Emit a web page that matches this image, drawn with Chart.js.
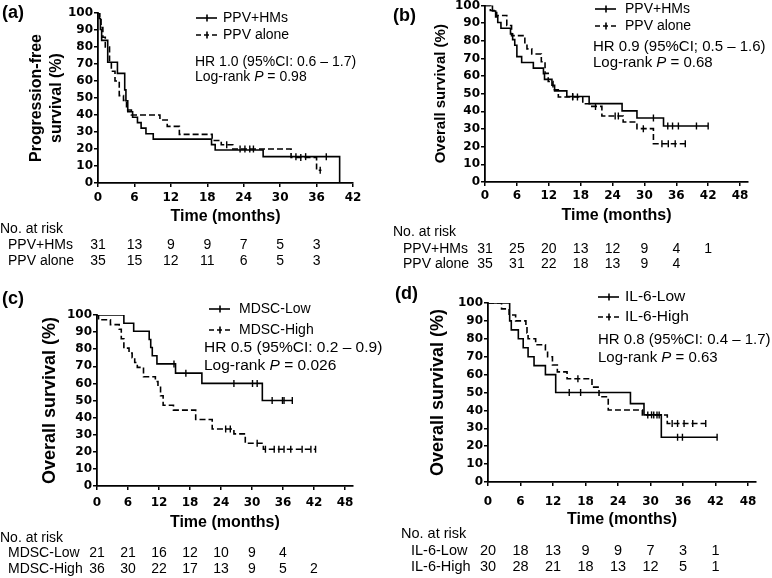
<!DOCTYPE html>
<html><head><meta charset="utf-8">
<script src="https://cdn.jsdelivr.net/npm/chart.js@4.4.1/dist/chart.umd.min.js"></script>
<style>
html,body{margin:0;padding:0;background:#fff;}
body{width:772px;height:578px;position:relative;overflow:hidden;}
canvas{position:absolute;}
</style></head>
<body>
<canvas id="ca" width="386" height="280" style="left:0;top:0"></canvas>
<canvas id="cb" width="386" height="280" style="left:386px;top:0"></canvas>
<canvas id="cc" width="386" height="298" style="left:0;top:280px"></canvas>
<canvas id="cd" width="386" height="298" style="left:386px;top:280px"></canvas>
<script>
// ---------- data ----------
const survTicks = [0,10,20,30,40,50,60,70,80,90,100];
const timeTicksA = [0,6,12,18,24,30,36,42];
const timeTicks = [0,6,12,18,24,30,36,42,48];
const riskTimes = [0,6,12,18,24,30,36,42];

// (a) progression-free survival
const aGroups = ['PPV+HMs','PPV alone'];
const aHmTime = [0,0.2,0.4,0.6,1.6,3.2,4.4,4.6,4.9,5.7,6.5,7.1,7.9,9.1,18.7,19.3,27.2,39.8];
const aHmSurv = [100,96.8,90.3,83.9,71.0,64.5,54.8,48.4,41.9,38.7,35.5,32.3,29.0,25.8,22.6,19.4,15.5,0];
const aHmCens = [32.6,34.2,37.6];
const aAloneTime = [0,0.3,0.5,0.8,1.2,1.9,2.2,2.8,3.5,4.2,4.7,5.5,10.2,11.4,13.4,18.8,20.3,22.2,31.8,36.0,36.8];
const aAloneSurv = [100,97.1,91.4,85.7,80.0,71.4,65.7,60.0,51.4,48.6,42.9,40.0,37.1,33.3,28.6,25.0,22.5,20.0,15.0,7.5,7.5];
const aAloneCens = [21.2,23.4,24.2,25.0,25.6,33.4,36.6];
const aRiskHm = [31,13,9,9,7,5,3];
const aRiskAlone = [35,15,12,11,6,5,3];
const aHR = 'HR 1.0 (95%CI: 0.6 \u2013 1.7)';
const aP = '0.98';

// (b) overall survival
const bGroups = ['PPV+HMs','PPV alone'];
const bHmTime = [0,1.4,2.0,2.4,3.0,4.8,5.2,5.6,6.0,6.9,9.1,11.0,11.2,12.6,13.1,15.4,19.6,25.8,28.6,33.6,42.0];
const bHmSurv = [100,96.8,93.5,90.3,87.1,83.9,80.6,77.4,71.0,67.7,64.5,61.3,58.1,54.8,51.6,48.4,44.4,40.3,36.2,31.7,31.7];
const bHmCens = [16.5,31.7,34.4,35.3,36.4,39.8,42.0];
const bAloneTime = [0,1.0,2.2,4.1,5.0,7.5,7.9,8.8,10.6,11.3,11.9,12.8,13.8,18.4,20.1,22.0,26.0,28.6,31.7,37.7];
const bAloneSurv = [100,97.1,94.3,88.6,82.9,78.3,75.4,72.5,68.1,61.5,56.9,52.2,48.1,44.3,42.8,37.4,34.0,30.2,21.7,21.7];
const bAloneCens = [16.5,17.4,20.8,24.5,25.1,29.8,33.3,34.5,35.8,37.7];
const bRiskHm = [31,25,20,13,12,9,4,1];
const bRiskAlone = [35,31,22,18,13,9,4];
const bHR = 'HR 0.9 (95%CI; 0.5 \u2013 1.6)';
const bP = '0.68';

// (c) MDSC
const cGroups = ['MDSC-Low','MDSC-High'];
const cLowTime = [0,5.2,7.1,10.1,10.4,10.7,11.6,15.2,20.3,32.0,37.8];
const cLowSurv = [100,95.2,90.5,85.7,81.0,76.2,71.4,66.0,60.0,50.0,50.0];
const cLowCens = [14.9,17.2,26.5,30.1,31.0,33.9,35.9,36.2,37.8];
const cHighTime = [0,0.3,2.6,4.3,4.7,5.2,6.2,6.8,7.3,7.8,9.0,11.3,11.8,12.3,12.8,14.8,19.1,22.3,26.5,28.7,32.2,42.3];
const cHighSurv = [100,97.2,94.4,91.7,86.1,80.6,77.8,75.0,72.2,69.4,63.9,61.1,58.3,52.8,47.2,44.4,38.9,33.3,30.5,25.0,21.5,21.5];
const cHighCens = [24.9,25.8,31.0,32.6,34.3,35.2,36.2,37.5,39.7,41.4,42.3];
const cRiskLow = [21,21,16,12,10,9,4];
const cRiskHigh = [36,30,22,17,13,9,5,2];
const cHR = 'HR 0.5 (95%CI: 0.2 \u2013 0.9)';
const cP = '0.026';

// (d) IL-6
const dGroups = ['IL-6-Low','IL-6-High'];
const dLowTime = [0,4.0,4.3,5.6,6.5,7.4,8.5,10.6,12.5,26.3,28.8,32.0,42.3];
const dLowSurv = [100,90,85,80,75,70,65,60,50,43.8,37.5,25.0,25.0];
const dLowCens = [15.0,17.1,30.2,31.2,35.0,35.9,42.3];
const dHighTime = [0,2.5,3.9,5.1,7.0,7.2,7.4,8.8,10.6,11.0,11.9,12.8,14.6,19.2,20.5,22.2,28.5,33.1,40.2];
const dHighSurv = [100,96.7,93.3,90.0,86.7,83.3,80.0,76.7,73.3,70.0,65.4,61.5,57.7,53.0,47.6,40.2,37.4,32.7,32.7];
const dHighCens = [16.6,29.5,30.6,31.6,34.0,35.0,36.2,37.8,40.2];
const dRiskLow = [20,18,13,9,9,7,3,1];
const dRiskHigh = [30,28,21,18,13,12,5,1];
const dHR = 'HR 0.8 (95%CI: 0.4 \u2013 1.7)';
const dP = '0.63';

// ---------- rendering ----------
const FONT = "'Liberation Sans', Arial, Helvetica, sans-serif";
const TICKFONT = "'DejaVu Sans', Verdana, sans-serif";

function stepValue(times, surv, t) {
  let v = surv[0];
  for (let i = 0; i < times.length; i++) if (times[i] <= t) v = surv[i];
  return v;
}

function extrasPlugin(p) {
  return {
    id: 'extras_' + p.id,
    afterDraw(chart) {
      const ctx = chart.ctx, ox = p.left, oy = p.top;
      ctx.save();
      ctx.fillStyle = '#000'; ctx.strokeStyle = '#000';
      ctx.textBaseline = 'middle'; ctx.textAlign = 'left';
      // panel label
      ctx.font = 'bold ' + p.labelSize + 'px ' + FONT;
      ctx.fillText(p.label, p.labelX - ox, p.labelY - oy);
      // legend
      p.groups.forEach((g, i) => {
        const y = p.legY[i] - oy, x0 = p.legX - ox;
        ctx.lineWidth = 1.6;
        ctx.setLineDash(g.dash ? [5, 3] : []);
        ctx.beginPath(); ctx.moveTo(x0, y); ctx.lineTo(x0 + 21, y); ctx.stroke();
        ctx.setLineDash([]);
        ctx.beginPath(); ctx.moveTo(x0 + 11, y - 3.5); ctx.lineTo(x0 + 11, y + 3.5); ctx.stroke();
        ctx.font = p.legSize + 'px ' + FONT;
        ctx.fillText(g.name, p.legTextX - ox, y);
      });
      // statistics
      ctx.font = p.statSize + 'px ' + FONT;
      ctx.fillText(p.hr, p.statX - ox, p.statY[0] - oy);
      let x = p.statX - ox;
      const y2 = p.statY[1] - oy;
      ctx.fillText('Log-rank ', x, y2); x += ctx.measureText('Log-rank ').width;
      ctx.font = 'italic ' + p.statSize + 'px ' + FONT;
      ctx.fillText('P', x, y2); x += ctx.measureText('P').width;
      ctx.font = p.statSize + 'px ' + FONT;
      ctx.fillText(' = ' + p.pval, x, y2);
      // risk table
      const xs = chart.scales.x;
      ctx.font = p.riskSize + 'px ' + FONT;
      ctx.textAlign = 'left';
      ctx.fillText('No. at risk', p.riskTitleX - ox, p.riskTitleY - oy);
      p.groups.forEach((g, i) => {
        const y = p.riskY[i] - oy;
        ctx.textAlign = 'left';
        ctx.fillText(g.name, p.riskLabelX - ox, y);
        ctx.textAlign = 'center';
        g.risk.forEach((n, j) => ctx.fillText(String(n), xs.getPixelForValue(riskTimes[j]), y));
      });
      ctx.restore();
    }
  };
}

function buildPanel(p) {
  const datasets = [];
  p.groups.forEach(g => {
    datasets.push({
      type: 'line',
      data: g.times.map((t, i) => ({x: t, y: g.surv[i]})),
      stepped: true, borderColor: '#000', borderWidth: 1.6,
      borderDash: g.dash ? [6, 3] : [], pointRadius: 0, fill: false
    });
    datasets.push({
      type: 'scatter',
      data: g.cens.map(t => ({x: t, y: stepValue(g.times, g.surv, t)})),
      pointStyle: 'line', rotation: 90, radius: 3.5,
      borderColor: '#000', backgroundColor: '#000', borderWidth: 1.4
    });
  });
  const yW = p.L - p.left;
  const top = p.T - p.top;
  const right = p.left + p.w - p.R;
  const bottom = p.top + p.h - p.B - p.xH;
  new Chart(document.getElementById(p.id), {
    data: {datasets},
    options: {
      responsive: false, animation: false, devicePixelRatio: 1,
      layout: {padding: {left: 0, top: top, right: right, bottom: bottom}},
      scales: {
        x: {
          type: 'linear', min: 0, max: p.xMax,
          afterBuildTicks: s => { s.ticks = p.xTicks.map(v => ({value: v})); },
          afterFit: s => { s.height = p.xH; s.paddingLeft = 0; s.paddingRight = 0; },
          ticks: {font: {family: TICKFONT, weight: 'bold', size: 12}, color: '#000', padding: p.xTickPad, maxRotation: 0, autoSkip: false},
          grid: {drawOnChartArea: false, drawTicks: true, tickLength: 4, color: '#000', lineWidth: 1.5},
          border: {display: true, color: '#000', width: 1.8},
          title: {display: true, text: 'Time (months)', font: {family: FONT, weight: 'bold', size: 16}, color: '#000', padding: 0}
        },
        y: {
          type: 'linear', min: 0, max: 100,
          afterBuildTicks: s => { s.ticks = survTicks.map(v => ({value: v})); },
          afterFit: s => { s.width = yW; s.paddingTop = 0; s.paddingBottom = 0; },
          ticks: {font: {family: TICKFONT, weight: 'bold', size: 12}, color: '#000', padding: 1, autoSkip: false},
          grid: {drawOnChartArea: false, drawTicks: true, tickLength: 4, color: '#000', lineWidth: 1.5},
          border: {display: true, color: '#000', width: 1.8},
          title: {display: true, text: p.yTitle, font: {family: FONT, weight: 'bold', size: p.yTitleSize}, color: '#000', padding: {top: p.yTitlePad, bottom: 0}}
        }
      },
      plugins: {legend: {display: false}, tooltip: {enabled: false}}
    },
    plugins: [extrasPlugin(p)]
  });
}

buildPanel({
  id: 'ca', left: 0, top: 0, w: 386, h: 280,
  L: 98, R: 353, T: 13, B: 183, xMax: 42, xTicks: timeTicksA, xH: 43.6, xTickPad: 4,
  yTitle: ['Progression-free', 'survival (%)'], yTitleSize: 16, yTitlePad: 27.4,
  label: '(a)', labelSize: 18, labelX: 2, labelY: 13,
  legX: 196, legTextX: 223, legY: [18, 35], legSize: 14,
  hr: aHR, pval: aP, statX: 195, statY: [62, 77], statSize: 14,
  riskSize: 14, riskTitleX: 0, riskTitleY: 229, riskLabelX: 8, riskY: [245, 261],
  groups: [
    {name: aGroups[0], times: aHmTime, surv: aHmSurv, cens: aHmCens, risk: aRiskHm, dash: false},
    {name: aGroups[1], times: aAloneTime, surv: aAloneSurv, cens: aAloneCens, risk: aRiskAlone, dash: true}
  ]
});

buildPanel({
  id: 'cb', left: 386, top: 0, w: 386, h: 280,
  L: 485, R: 748, T: 5, B: 182, xMax: 49.5, xTicks: timeTicks, xH: 43.6, xTickPad: 3,
  yTitle: 'Overall survival (%)', yTitleSize: 15, yTitlePad: 46,
  label: '(b)', labelSize: 18, labelX: 393, labelY: 16,
  legX: 595, legTextX: 625, legY: [9, 26], legSize: 14,
  hr: bHR, pval: bP, statX: 593, statY: [47, 63], statSize: 15,
  riskSize: 14, riskTitleX: 393, riskTitleY: 232, riskLabelX: 403, riskY: [249, 264],
  groups: [
    {name: bGroups[0], times: bHmTime, surv: bHmSurv, cens: bHmCens, risk: bRiskHm, dash: false},
    {name: bGroups[1], times: bAloneTime, surv: bAloneSurv, cens: bAloneCens, risk: bRiskAlone, dash: true}
  ]
});

buildPanel({
  id: 'cc', left: 0, top: 280, w: 386, h: 298,
  L: 97, R: 352.75, T: 315, B: 486, xMax: 49.5, xTicks: timeTicks, xH: 46.6, xTickPad: 6,
  yTitle: 'Overall survival (%)', yTitleSize: 18, yTitlePad: 39.2,
  label: '(c)', labelSize: 18, labelX: 2, labelY: 299,
  legX: 209, legTextX: 239, legY: [309, 330], legSize: 14,
  hr: cHR, pval: cP, statX: 204, statY: [348, 366], statSize: 15.5,
  riskSize: 14, riskTitleX: 0, riskTitleY: 538, riskLabelX: 8, riskY: [553, 569],
  groups: [
    {name: cGroups[0], times: cLowTime, surv: cLowSurv, cens: cLowCens, risk: cRiskLow, dash: false},
    {name: cGroups[1], times: cHighTime, surv: cHighSurv, cens: cHighCens, risk: cRiskHigh, dash: true}
  ]
});

buildPanel({
  id: 'cd', left: 386, top: 280, w: 386, h: 298,
  L: 488, R: 756.1, T: 303, B: 482, xMax: 49.5, xTicks: timeTicks, xH: 47.6, xTickPad: 9,
  yTitle: 'Overall survival (%)', yTitleSize: 18, yTitlePad: 40.9,
  label: '(d)', labelSize: 18, labelX: 395, labelY: 294,
  legX: 598, legTextX: 625, legY: [297, 317], legSize: 15.5,
  hr: dHR, pval: dP, statX: 598, statY: [340, 358], statSize: 15,
  riskSize: 14.5, riskTitleX: 401, riskTitleY: 534, riskLabelX: 411, riskY: [551, 567],
  groups: [
    {name: dGroups[0], times: dLowTime, surv: dLowSurv, cens: dLowCens, risk: dRiskLow, dash: false},
    {name: dGroups[1], times: dHighTime, surv: dHighSurv, cens: dHighCens, risk: dRiskHigh, dash: true}
  ]
});
</script>
</body></html>
